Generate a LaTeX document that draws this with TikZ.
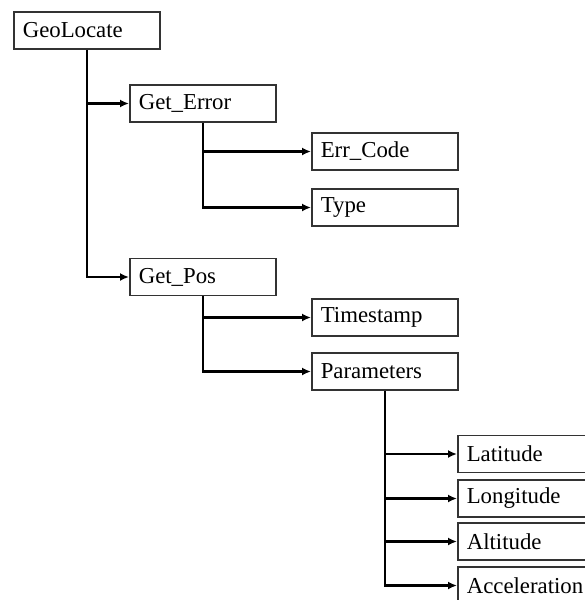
\documentclass[tikz,border=0pt]{standalone}
\usepackage{fontspec}
\setmainfont{Liberation Serif}
\usepackage{tikz}
\usetikzlibrary{
    arrows.meta,
    positioning
}
\tikzset{
    box/.style={draw=black!80, line width=1.6pt, fill=white, anchor=west,
        text width=128pt, inner xsep=9pt, inner ysep=0pt, minimum height=37pt,
        align=left, font=\fontsize{22.8}{27}\selectfont},
    link/.style={-{Latex[length=9pt,width=8pt]}, line width=2.6pt}
}

\begin{document}
\begin{tikzpicture}[x=1pt, y=-1pt]
    \useasboundingbox (0, 0) rectangle (584, 600);
    \node[box] (geo) at (13, 30.5) {GeoLocate};
    \node[box] (err) at (129, 103.5) {Get\_Error};
    \node[box] (code) at (311, 151.5) {Err\_Code};
    \node[box] (type) at (311, 207.5) {Type};
    \node[box] (pos) at (129, 277) {Get\_Pos};
    \node[box] (stamp) at (311, 317.5) {Timestamp};
    \node[box] (params) at (311, 371.5) {Parameters};
    \node[box] (lat) at (457, 454) {Latitude};
    \node[box] (lon) at (457, 498.5) {Longitude};
    \node[box] (alt) at (457, 541.5) {Altitude};
    \node[box] (acc) at (457, 585.5) {Acceleration};
    \draw[link] (geo.south) |- (err.west);
    \draw[link] (geo.south) |- (pos.west);
    \draw[link] (err.south) |- (code.west);
    \draw[link] (err.south) |- (type.west);
    \draw[link] (pos.south) |- (stamp.west);
    \draw[link] (pos.south) |- (params.west);
    \draw[link] (params.south) |- (lat.west);
    \draw[link] (params.south) |- (lon.west);
    \draw[link] (params.south) |- (alt.west);
    \draw[link] (params.south) |- (acc.west);
\end{tikzpicture}
\end{document}
